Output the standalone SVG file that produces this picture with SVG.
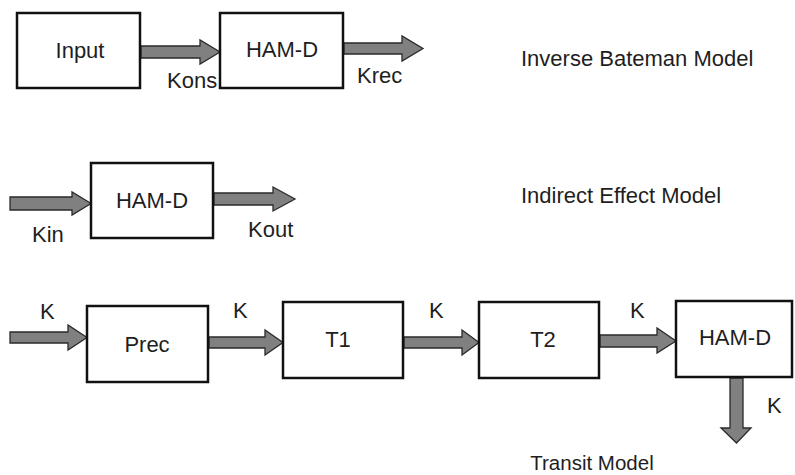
<svg xmlns="http://www.w3.org/2000/svg" width="795" height="475" viewBox="0 0 795 475">
<style>
.box{fill:#fff;stroke:#111;stroke-width:2.5}
.arr{fill:#808080;stroke:#2a2a2a;stroke-width:1.3;stroke-linejoin:miter}
text{font-family:"Liberation Sans",Arial,sans-serif;font-size:22px;fill:#1e1e1e}
.c{text-anchor:middle}
</style>
<rect width="795" height="475" fill="#fff"/>
<g id="connectors">
<polygon class="arr" points="141,46 200,46 200,40 220,52 200,64 200,58 141,58"/>
<polygon class="arr" points="344,43 402,43 402,36 423,48.5 402,61 402,54 344,54"/>
<polygon class="arr" points="10,197 72,197 72,192 91,203.5 72,215 72,210 10,210"/>
<polygon class="arr" points="214,193 273,193 273,187 295,199 273,211 273,205 214,205"/>
<polygon class="arr" points="10,332 68,332 68,325 87,337.5 68,350 68,343 10,343"/>
<polygon class="arr" points="209,337 265,337 265,330 283,342.5 265,355 265,348 209,348"/>
<polygon class="arr" points="404,337 462,337 462,330 479,342.5 462,355 462,348 404,348"/>
<polygon class="arr" points="600,335 657,335 657,328 676,341 657,353 657,347 600,347"/>
<polygon class="arr" points="730,378 743,378 743,428 751,428 736.5,443 721,428 730,428"/>
</g>
<g id="input"><rect class="box" x="17" y="13" width="123" height="75"/><text class="c" x="80" y="58">Input</text></g>
<g id="hamd1"><rect class="box" x="220" y="13" width="123" height="75"/><text class="c" x="282" y="57">HAM-D</text></g>
<g id="hamd2"><rect class="box" x="91" y="163" width="122" height="75"/><text class="c" x="152" y="208">HAM-D</text></g>
<g id="prec"><rect class="box" x="87" y="306" width="121" height="76"/><text class="c" x="147" y="352">Prec</text></g>
<g id="t1"><rect class="box" x="283" y="302" width="120" height="76"/><text class="c" x="338" y="347">T1</text></g>
<g id="t2"><rect class="box" x="479" y="302" width="120" height="76"/><text class="c" x="543" y="347">T2</text></g>
<g id="hamd3"><rect class="box" x="676" y="301" width="116" height="76"/><text class="c" x="735" y="345">HAM-D</text></g>
<g id="labels">
<text x="167" y="88">Kons</text>
<text x="357" y="83">Krec</text>
<text x="32" y="242">Kin</text>
<text x="248" y="237">Kout</text>
<text x="40" y="319">K</text>
<text x="233" y="318">K</text>
<text x="429" y="318">K</text>
<text x="630" y="318">K</text>
<text x="767" y="413">K</text>
<text x="521" y="66">Inverse Bateman Model</text>
<text x="521" y="203">Indirect Effect Model</text>
<text class="c" x="592" y="470" style="font-size:20.5px">Transit Model</text>
</g>
</svg>
